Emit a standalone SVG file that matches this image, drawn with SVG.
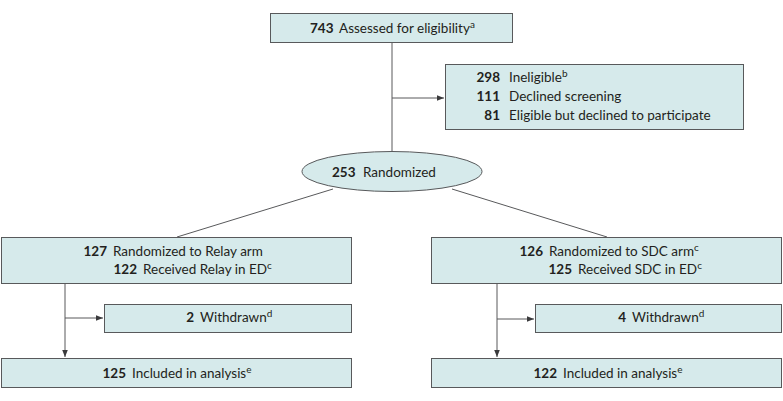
<svg xmlns="http://www.w3.org/2000/svg" width="783" height="401" viewBox="0 0 783 401">
<defs>
<marker id="ah" viewBox="0 0 10 10" refX="10" refY="5" markerWidth="7" markerHeight="7" orient="auto" markerUnits="userSpaceOnUse">
<path d="M0,1 L10,5 L0,9 Z" fill="#3a3a3c"/>
</marker>
<style>
.box{fill:#d6eaeb;stroke:#58595b;stroke-width:1}
.t{font-family:Lato,"Open Sans","Liberation Sans",sans-serif;font-size:13.5px;fill:#231f20}
.b{font-weight:bold}
.s{font-size:10px}
.c{fill:none;stroke:#58595b;stroke-width:1}
</style>
</defs>
<rect width="783" height="401" fill="#ffffff"/>
<g id="connectors">
<line class="c" x1="392" y1="42" x2="392" y2="151"/>
<line class="c" x1="392" y1="98" x2="444" y2="98" marker-end="url(#ah)"/>
<line class="c" x1="333" y1="189" x2="177" y2="237"/>
<line class="c" x1="452" y1="189" x2="607" y2="237"/>
<line class="c" x1="65" y1="283" x2="65" y2="357" marker-end="url(#ah)"/>
<line class="c" x1="65" y1="318" x2="103" y2="318" marker-end="url(#ah)"/>
<line class="c" x1="497" y1="283" x2="497" y2="357" marker-end="url(#ah)"/>
<line class="c" x1="497" y1="319" x2="534" y2="319" marker-end="url(#ah)"/>
</g>
<g id="assessed">
<rect class="box" x="270.5" y="13.5" width="242" height="29"/>
<text class="t" y="33"><tspan class="b" x="310">743</tspan><tspan x="339">Assessed for eligibility</tspan><tspan class="s" dy="-5">a</tspan></text>
</g>
<g id="excluded">
<rect class="box" x="445.5" y="64.5" width="298" height="65"/>
<text class="t" y="82"><tspan class="b" x="500" text-anchor="end">298</tspan><tspan x="509">Ineligible</tspan><tspan class="s" dy="-5">b</tspan></text>
<text class="t" y="101"><tspan class="b" x="500" text-anchor="end">111</tspan><tspan x="509">Declined screening</tspan></text>
<text class="t" y="120"><tspan class="b" x="500" text-anchor="end">81</tspan><tspan x="509">Eligible but declined to participate</tspan></text>
</g>
<g id="randomized">
<ellipse class="box" cx="392" cy="171.5" rx="90" ry="20"/>
<text class="t" y="177"><tspan class="b" x="332">253</tspan><tspan x="363">Randomized</tspan></text>
</g>
<g id="relay-arm">
<rect class="box" x="1.5" y="237.5" width="350" height="46"/>
<text class="t" y="256"><tspan class="b" x="107" text-anchor="end">127</tspan><tspan x="113">Randomized to Relay arm</tspan></text>
<text class="t" y="274"><tspan class="b" x="137" text-anchor="end">122</tspan><tspan x="143">Received Relay in ED</tspan><tspan class="s" dy="-5">c</tspan></text>
</g>
<g id="relay-withdrawn">
<rect class="box" x="104.5" y="304.5" width="247" height="28"/>
<text class="t" y="322"><tspan class="b" x="194" text-anchor="end">2</tspan><tspan x="200">Withdrawn</tspan><tspan class="s" dy="-5">d</tspan></text>
</g>
<g id="relay-analysis">
<rect class="box" x="1.5" y="358.5" width="350" height="29"/>
<text class="t" y="378"><tspan class="b" x="126" text-anchor="end">125</tspan><tspan x="132">Included in analysis</tspan><tspan class="s" dy="-5">e</tspan></text>
</g>
<g id="sdc-arm">
<rect class="box" x="431.5" y="237.5" width="350" height="46"/>
<text class="t" y="256"><tspan class="b" x="543" text-anchor="end">126</tspan><tspan x="549">Randomized to SDC arm</tspan><tspan class="s" dy="-5">c</tspan></text>
<text class="t" y="274"><tspan class="b" x="572" text-anchor="end">125</tspan><tspan x="578">Received SDC in ED</tspan><tspan class="s" dy="-5">c</tspan></text>
</g>
<g id="sdc-withdrawn">
<rect class="box" x="535.5" y="304.5" width="246" height="28"/>
<text class="t" y="322"><tspan class="b" x="626" text-anchor="end">4</tspan><tspan x="632">Withdrawn</tspan><tspan class="s" dy="-5">d</tspan></text>
</g>
<g id="sdc-analysis">
<rect class="box" x="431.5" y="358.5" width="350" height="29"/>
<text class="t" y="378"><tspan class="b" x="557" text-anchor="end">122</tspan><tspan x="563">Included in analysis</tspan><tspan class="s" dy="-5">e</tspan></text>
</g>
</svg>
